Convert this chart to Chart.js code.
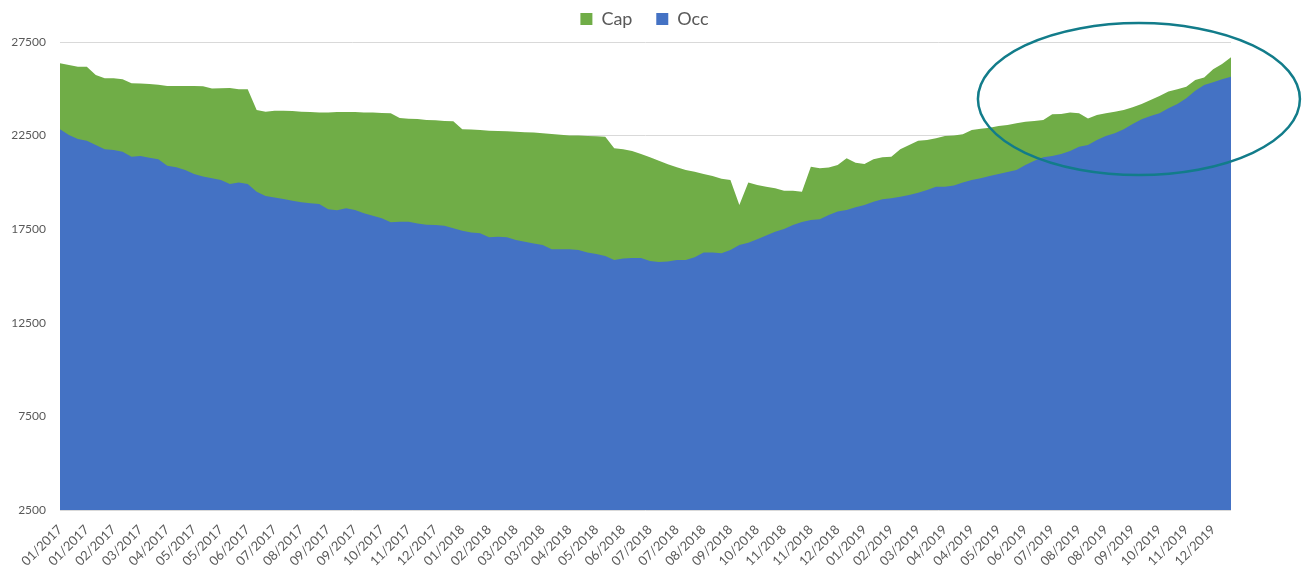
<!DOCTYPE html>
<html>
<head>
<meta charset="utf-8">
<script src="https://cdn.jsdelivr.net/npm/chart.js@4"></script>
<style>
  html, body { margin: 0; padding: 0; background: #fff; }
</style>
</head>
<body>
<canvas id="chart" width="1303" height="567"></canvas>
<script>
const tickLabels = [
  '01/2017', '01/2017', '02/2017', '03/2017', '04/2017', '05/2017', '05/2017', '06/2017',
  '07/2017', '08/2017', '09/2017', '09/2017', '10/2017', '11/2017', '12/2017',
  '01/2018', '02/2018', '03/2018', '03/2018', '04/2018', '05/2018', '06/2018', '07/2018',
  '07/2018', '08/2018', '09/2018', '10/2018', '11/2018', '11/2018', '12/2018',
  '01/2019', '02/2019', '03/2019', '04/2019', '04/2019', '05/2019', '06/2019', '07/2019',
  '08/2019', '08/2019', '09/2019', '10/2019', '11/2019', '12/2019'
];

const capValues = [
  26360, 26270, 26180, 26180, 25740, 25560, 25560, 25510, 25290, 25280,
  25260, 25220, 25150, 25150, 25150, 25150, 25130, 25010, 25030, 25040,
  24970, 24970, 23870, 23780, 23830, 23830, 23810, 23780, 23760, 23740,
  23740, 23760, 23760, 23760, 23740, 23730, 23710, 23690, 23440, 23400,
  23390, 23330, 23320, 23280, 23260, 22840, 22820, 22800, 22760, 22750,
  22730, 22710, 22680, 22660, 22620, 22590, 22550, 22510, 22500, 22480,
  22460, 22440, 21820, 21770, 21680, 21520, 21340, 21160, 20970, 20810,
  20660, 20570, 20450, 20340, 20200, 20130, 18790, 19990, 19860, 19770,
  19690, 19560, 19560, 19500, 20840, 20750, 20790, 20930, 21290, 21050,
  20980, 21230, 21340, 21370, 21770, 22000, 22230, 22270, 22360, 22480,
  22500, 22570, 22800, 22870, 22920, 23010, 23070, 23160, 23240, 23280,
  23330, 23640, 23650, 23730, 23690, 23420, 23600, 23690, 23780, 23870,
  24010, 24190, 24400, 24620, 24850, 24970, 25110, 25470, 25610, 26040,
  26330, 26680
];

const occValues = [
  22840, 22530, 22320, 22230, 22000, 21770, 21730, 21640, 21370, 21410,
  21320, 21230, 20890, 20810, 20660, 20450, 20310, 20220, 20130, 19920,
  19990, 19920, 19500, 19270, 19200, 19110, 19020, 18940, 18880, 18850,
  18560, 18510, 18620, 18530, 18350, 18220, 18080, 17870, 17900, 17900,
  17810, 17740, 17720, 17690, 17550, 17420, 17330, 17280, 17070, 17100,
  17070, 16920, 16830, 16740, 16660, 16430, 16430, 16430, 16390, 16260,
  16180, 16070, 15850, 15940, 15960, 15960, 15800, 15750, 15780, 15850,
  15850, 16000, 16250, 16260, 16210, 16390, 16660, 16780, 16960, 17170,
  17370, 17510, 17720, 17880, 17990, 18030, 18260, 18440, 18530, 18670,
  18790, 18970, 19100, 19150, 19240, 19330, 19450, 19590, 19770, 19770,
  19840, 19990, 20130, 20220, 20340, 20450, 20560, 20660, 20930, 21160,
  21340, 21410, 21520, 21680, 21910, 22000, 22270, 22480, 22620, 22840,
  23120, 23370, 23550, 23690, 23960, 24190, 24490, 24900, 25200, 25350,
  25510, 25650
];

// one tick label every 3rd point
const labels = capValues.map((v, i) => (i % 3 === 0 ? tickLabels[i / 3] : ''));

const textColor = '#595959';
const fontFamily = 'Lato, "Open Sans", sans-serif';

// teal ellipse drawn around the last months
const ellipsePlugin = {
  id: 'ellipse',
  afterDraw(chart) {
    const x = chart.scales.x;
    const y = chart.scales.y;
    const cx = x.getPixelForValue(120.7);
    const cy = y.getPixelForValue(24450);
    const ctx = chart.ctx;
    ctx.save();
    ctx.beginPath();
    ctx.ellipse(cx, cy, 161, 76, 0, 0, Math.PI * 2);
    ctx.strokeStyle = '#127C8A';
    ctx.lineWidth = 2.5;
    ctx.stroke();
    ctx.restore();
  }
};

// keep the legend high, leave room above the plot, centre it on the page
const legendPlugin = {
  id: 'legendBox',
  beforeLayout(chart) {
    const legend = chart.legend;
    if (legend && !legend._patched) {
      const fit = legend.fit;
      legend.fit = function () {
        fit.call(this);
        this.height = 42;
      };
      legend._patched = true;
    }
  },
  afterLayout(chart) {
    chart.legend.left = 0;
    chart.legend.right = chart.width - 14;
  }
};

new Chart(document.getElementById('chart').getContext('2d'), {
  type: 'line',
  data: {
    labels: labels,
    datasets: [
      {
        label: 'Cap',
        data: capValues,
        backgroundColor: '#70AD47',
        borderColor: '#70AD47',
        borderWidth: 0,
        pointRadius: 0,
        fill: 'start',
        tension: 0,
        order: 1,
      },
      {
        label: 'Occ',
        data: occValues,
        backgroundColor: '#4472C4',
        borderColor: '#4472C4',
        borderWidth: 0,
        pointRadius: 0,
        fill: 'start',
        tension: 0,
        order: 0,
      },
    ],
  },
  options: {
    responsive: false,
    animation: false,
    layout: {
      padding: { left: 0, right: 72, top: 0, bottom: 0 },
    },
    plugins: {
      legend: {
        position: 'top',
        labels: {
          sort: (a, b) => a.datasetIndex - b.datasetIndex,
          generateLabels(chart) {
            const items = Chart.defaults.plugins.legend.labels.generateLabels(chart);
            items.forEach(item => {
              if (item.text === 'Cap') item.text = 'Cap   ';
            });
            return items;
          },
          color: textColor,
          font: { family: fontFamily, size: 18 },
          boxWidth: 12,
          boxHeight: 12,
          padding: 10,
        },
      },
      tooltip: { enabled: false },
    },
    scales: {
      x: {
        grid: { display: false },
        border: { display: false },
        ticks: {
          autoSkip: false,
          maxRotation: 45,
          minRotation: 45,
          padding: 4,
          color: textColor,
          font: { family: fontFamily, size: 13 },
        },
        afterFit(scale) {
          scale.height = 57;
        },
      },
      y: {
        min: 2500,
        max: 27500,
        border: { display: false },
        grid: { color: '#D9D9D9', drawTicks: false },
        ticks: {
          stepSize: 5000,
          padding: 14,
          color: textColor,
          font: { family: fontFamily, size: 12 },
          callback: value => String(value),
        },
        afterFit(scale) {
          scale.width = 60;
        },
      },
    },
  },
  plugins: [ellipsePlugin, legendPlugin],
});
</script>
</body>
</html>
